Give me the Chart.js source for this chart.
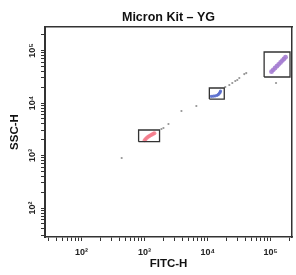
<!DOCTYPE html>
<html><head><meta charset="utf-8">
<script src="https://cdn.jsdelivr.net/npm/chart.js@4/dist/chart.umd.min.js"></script>
<style>html,body{margin:0;padding:0;background:#fff}canvas{display:block}</style>
</head><body>
<canvas id="c" width="296" height="275"></canvas>
<script>
const FONT = "'Liberation Sans Narrow','Arial Narrow','Liberation Sans',Arial,sans-serif";
const chartTitle = 'Micron Kit – YG';
const xAxisTitle = 'FITC-H';
const yAxisTitle = 'SSC-H';
const xRange = [26.3, 217800];
const yRange = [28.05, 280500];
const majorValues = [100, 1000, 10000, 100000];
const majorLabels = ['10²', '10³', '10⁴', '10⁵'];

// pink (red) bead population
const pinkX = [1000, 1040, 1090, 1140, 1190, 1250, 1310, 1370, 1430];
const pinkY = [1950, 2060, 2170, 2270, 2360, 2440, 2520, 2590, 2660];
// blue bead population
const blueX = [11400, 12300, 13200, 14100, 14800, 15400, 15800, 16000];
const blueY = [13400, 13500, 13700, 14000, 14600, 15400, 16200, 16900];
// purple bead population
const purpleX = [103000, 110000, 117500, 125500, 134000, 143500, 153000, 162000, 172000];
const purpleY = [39500, 42800, 46400, 50300, 54600, 59300, 64300, 69000, 74500];
// scattered grey events
const greyX = [433, 1850, 1990, 2390, 3840, 6620, 19050, 22060, 24600, 27450, 29510, 31770, 38110, 40950, 121600];
const greyY = [896, 3200, 3340, 3980, 7050, 8770, 20180, 22030, 24040, 26240, 27420, 29940, 35650, 37240, 24040];
// gates (x range, y range)
const pinkGateX = [803, 1726],   pinkGateY = [1833, 3061];
const blueGateX = [10640, 18350], blueGateY = [11910, 19310];
const purpleGateX = [78700, 202600], purpleGateY = [31270, 93600];

function pts(xs, ys) { return xs.map((x, i) => ({x: x, y: ys[i]})); }
function gate(gx, gy) {
  return [{x: gx[0], y: gy[0]}, {x: gx[1], y: gy[0]}, {x: gx[1], y: gy[1]}, {x: gx[0], y: gy[1]}, {x: gx[0], y: gy[0]}];
}
function logTicks(lo, hi) {
  const out = [];
  for (let d = 1; d <= 6; d++) for (let m = 1; m <= 9; m++) {
    const v = m * Math.pow(10, d);
    if (v >= lo && v <= hi) out.push(v);
  }
  return out;
}
const labelFor = v => { const i = majorValues.indexOf(v); return i >= 0 ? majorLabels[i] : ''; };
const tickFont = {family: FONT, size: 9, weight: 'bold'};
const titleFont = {family: FONT, size: 11.5, weight: 'bold'};

function dotSet(xs, ys, color, r) {
  return {data: pts(xs, ys), pointRadius: r, pointBackgroundColor: color, pointBorderWidth: 0, showLine: false};
}
function gateSet(gx, gy) {
  return {data: gate(gx, gy), showLine: true, pointRadius: 0, borderColor: '#333', borderWidth: 1.3, fill: false, tension: 0};
}

new Chart(document.getElementById('c'), {
  type: 'scatter',
  data: {datasets: [
    gateSet(pinkGateX, pinkGateY),
    gateSet(blueGateX, blueGateY),
    gateSet(purpleGateX, purpleGateY),
    dotSet(pinkX, pinkY, 'rgba(245,125,140,0.85)', 2),
    dotSet(blueX, blueY, 'rgba(90,110,205,0.9)', 1.6),
    dotSet(purpleX, purpleY, 'rgba(165,125,210,0.9)', 2.4),
    dotSet(greyX, greyY, 'rgba(130,130,130,0.85)', 1.1)
  ]},
  options: {
    responsive: false, animation: false, devicePixelRatio: 1,
    layout: {padding: 0},
    plugins: {legend: {display: false}, tooltip: {enabled: false}, title: {display: false}},
    scales: {
      x: {
        type: 'logarithmic', position: 'bottom', min: xRange[0], max: xRange[1],
        afterBuildTicks: s => { s.ticks = logTicks(xRange[0], xRange[1]).map(v => ({value: v})); },
        afterFit: s => { s.height = 38; },
        ticks: {autoSkip: false, minRotation: 0, maxRotation: 0, padding: 6, font: tickFont, color: '#222', callback: v => labelFor(v)},
        grid: {drawOnChartArea: false, drawTicks: true, tickLength: 4, color: '#333', lineWidth: 1},
        border: {display: true, color: '#333', width: 1.5},
        title: {display: true, text: xAxisTitle, font: titleFont, color: '#111', padding: {top: 0, bottom: 4}}
      },
      y: {
        type: 'logarithmic', position: 'left', min: yRange[0], max: yRange[1],
        afterBuildTicks: s => { s.ticks = logTicks(yRange[0], yRange[1]).map(v => ({value: v})); },
        afterFit: s => { s.width = 45; },
        ticks: {autoSkip: false, minRotation: 90, maxRotation: 90, crossAlign: 'center', padding: 1.5, font: tickFont, color: '#222', callback: v => labelFor(v)},
        grid: {drawOnChartArea: false, drawTicks: true, tickLength: 4, color: '#333', lineWidth: 1},
        border: {display: true, color: '#333', width: 2},
        title: {display: true, text: yAxisTitle, font: titleFont, color: '#111', padding: {top: 8, bottom: 0}}
      },
      x2: {
        type: 'linear', position: 'top', min: 0, max: 1,
        afterFit: s => { s.height = 27; },
        ticks: {display: false}, grid: {display: false, drawTicks: false},
        border: {display: true, color: '#333', width: 1.5},
        title: {display: true, text: chartTitle, font: {family: FONT, size: 12.5, weight: 'bold'}, color: '#111', padding: {top: 10, bottom: 0}}
      },
      y2: {
        type: 'linear', position: 'right', min: 0, max: 1,
        afterFit: s => { s.width = 3; },
        ticks: {display: false}, grid: {display: false, drawTicks: false},
        border: {display: true, color: '#333', width: 1.5}
      }
    }
  }
});
</script>
</body></html>
